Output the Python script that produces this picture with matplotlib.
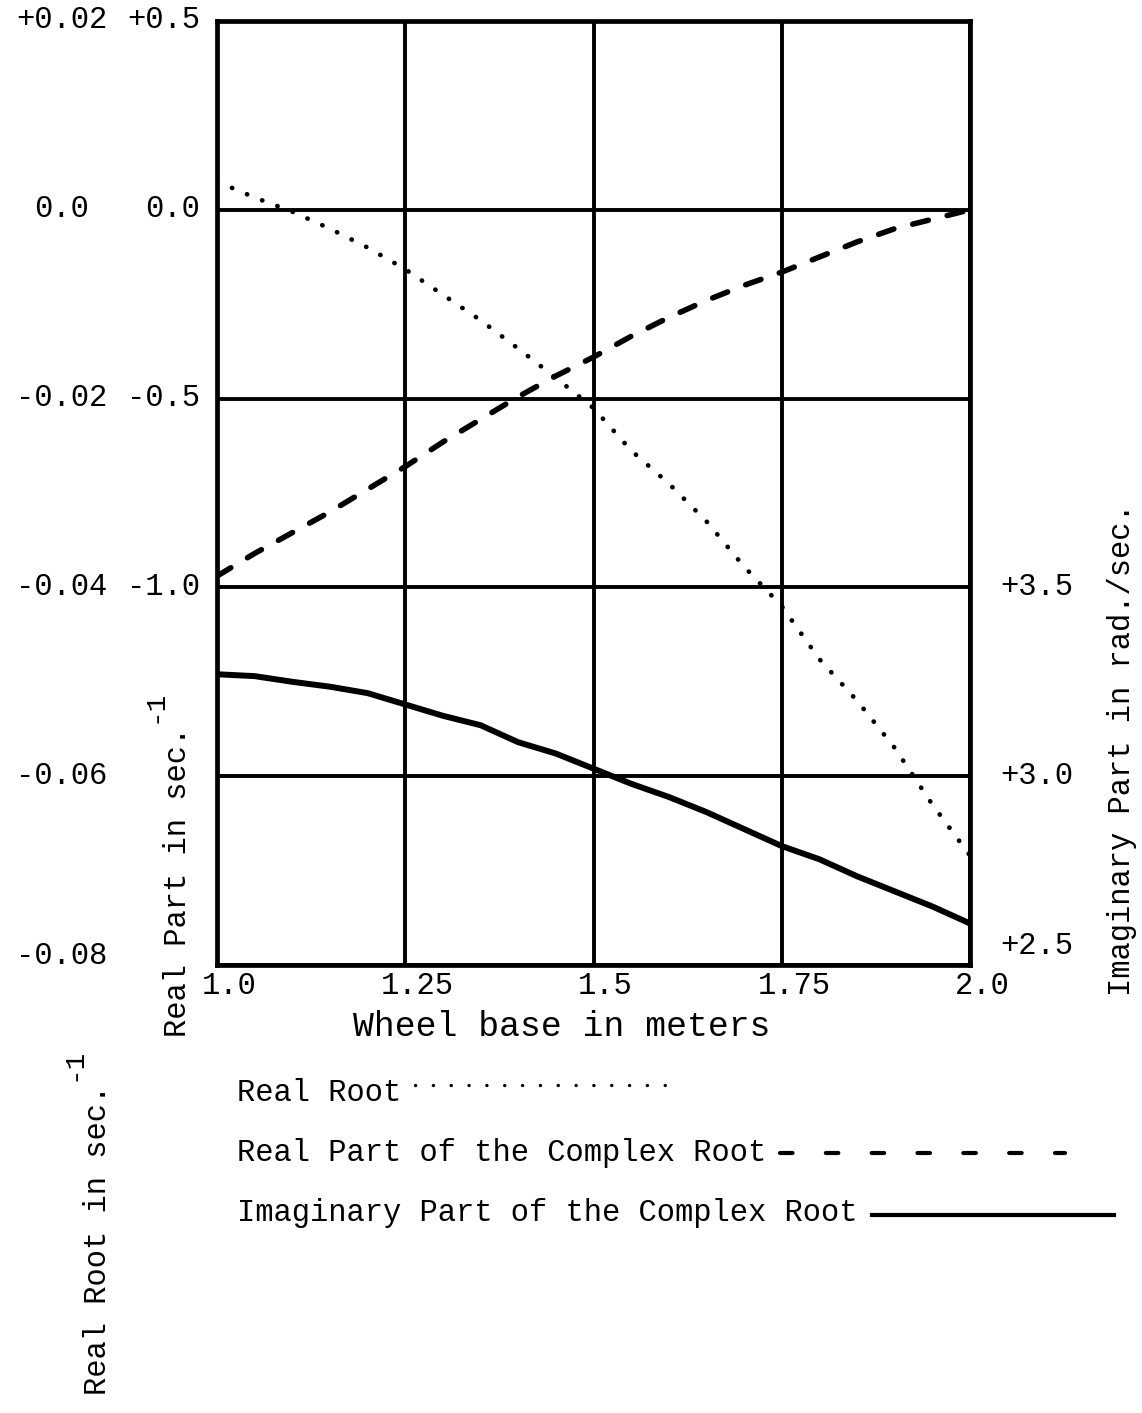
import numpy as np
import matplotlib.pyplot as plt
from matplotlib.lines import Line2D
from matplotlib.transforms import ScaledTranslation

# typewriter look
plt.rcParams['font.family'] = ['Liberation Mono', 'DejaVu Sans Mono']

FS = 22

# wheel base in meters
wheel_base = [1.0, 1.05, 1.1, 1.15, 1.2, 1.25, 1.3, 1.35, 1.4, 1.45, 1.5,
              1.55, 1.6, 1.65, 1.7, 1.75, 1.8, 1.85, 1.9, 1.95, 2.0]
# real root (1/sec)
real_root = [0.0030, 0.0013, -0.0002, -0.0020, -0.0040, -0.0063, -0.0090,
             -0.0117, -0.0147, -0.0178, -0.0210, -0.0255, -0.0290, -0.0330,
             -0.0378, -0.0420, -0.0476, -0.0520, -0.0570, -0.0630, -0.0684]
# real part of the complex root (1/sec)
real_part = [-0.97, -0.91, -0.855, -0.80, -0.74, -0.68, -0.615, -0.555,
             -0.495, -0.44, -0.39, -0.335, -0.285, -0.24, -0.20, -0.165,
             -0.125, -0.085, -0.05, -0.025, 0.0]
# imaginary part of the complex root (rad/sec)
imag_part = [3.27, 3.265, 3.25, 3.237, 3.22, 3.19, 3.16, 3.135, 3.09, 3.06,
             3.02, 2.98, 2.945, 2.905, 2.86, 2.815, 2.78, 2.735, 2.695,
             2.655, 2.61]

x_ticks = [1.0, 1.25, 1.5, 1.75, 2.0]
x_labels = ['1.0', '1.25', '1.5', '1.75', '2.0']
rp_ticks = [0.5, 0.0, -0.5, -1.0, -1.5, -2.0]
rp_labels = ['+0.5', '0.0', '-0.5', '-1.0', '', '']
rr_ticks = [0.02, 0.0, -0.02, -0.04, -0.06, -0.08]
rr_labels = ['+0.02', '0.0', '-0.02', '-0.04', '-0.06', '-0.08']
im_ticks = [2.5, 3.0, 3.5]
im_labels = ['+2.5', '+3.0', '+3.5']

W, H = 1142, 1413
fig = plt.figure(figsize=(W / 100, H / 100), dpi=100)
ax = fig.add_axes([217 / W, 1 - 965 / H, (970 - 217) / W, (965 - 21) / H])

# real part of complex root on the main axes
ax.set_xlim(1.0, 2.0)
ax.set_ylim(-2.0, 0.5)
ax.set_xticks(x_ticks, x_labels, fontsize=FS)
ax.set_yticks(rp_ticks, rp_labels, fontsize=FS)
ax.tick_params(length=0)
ax.tick_params(axis='y', pad=12)
ax.tick_params(axis='x', pad=4)
ax.grid(True, color='black', lw=2.8)
for s in ax.spines.values():
    s.set_linewidth(3.4)
shift = ScaledTranslation(12 / 100, 0, fig.dpi_scale_trans)
for lab in ax.get_xticklabels():
    lab.set_transform(lab.get_transform() + shift)
up = ScaledTranslation(0, 4 / 100, fig.dpi_scale_trans)
for lab in ax.get_yticklabels():
    lab.set_transform(lab.get_transform() + up)

ax.plot(wheel_base, real_part, color='black', lw=4.0,
        linestyle=(0, (2.9, 3.5)), dash_capstyle='round')

# real root on a second scale, labels far left
ax_r = ax.twinx()
ax_r.set_ylim(-0.08, 0.02)
ax_r.yaxis.tick_left()
ax_r.set_yticks(rr_ticks, rr_labels, fontsize=FS)
ax_r.tick_params(length=0, pad=112)
up2 = ScaledTranslation(0, 8 / 100, fig.dpi_scale_trans)
for lab in ax_r.get_yticklabels():
    lab.set_ha('center')
    lab.set_transform(lab.get_transform() + up)
lab = ax_r.get_yticklabels()[-1]
lab.set_transform(lab.get_transform() + up2)
for s in ax_r.spines.values():
    s.set_visible(False)
ax_r.plot(wheel_base, real_root, color='black', lw=3.4,
          linestyle=(0, (0.05, 3.4)), dash_capstyle='round')

# imaginary part on the right
ax_i = ax.twinx()
ax_i.set_ylim(2.5, 5.0)
ax_i.set_yticks(im_ticks, im_labels, fontsize=FS)
ax_i.tick_params(length=0, pad=22)
for lab in ax_i.get_yticklabels():
    lab.set_transform(lab.get_transform() + up)
ax_i.get_yticklabels()[0].set_va('bottom')
for s in ax_i.spines.values():
    s.set_visible(False)
ax_i.plot(wheel_base, imag_part, color='black', lw=4.3,
          solid_capstyle='round', solid_joinstyle='round')

renderer = fig.canvas.get_renderer()
inv = fig.transFigure.inverted()


def vertical_label(xp, yp, text, exponent=None):
    """Rotated axis title; exponent drawn raised after the text."""
    t = fig.text(xp / W, 1 - yp / H, text, fontsize=FS, rotation=90,
                 ha='center', va='center')
    if exponent:
        bb = t.get_window_extent(renderer)
        pos = inv.transform((bb.x0 + 4, bb.y1 + 4))
        fig.text(pos[0], pos[1], exponent, fontsize=FS - 2, rotation=90,
                 ha='right', va='bottom')


# axis titles
fig.text(562 / W, 1 - 1027 / H, 'Wheel base in meters', fontsize=25,
         ha='center', va='center')
vertical_label(178, 882, 'Real Part in sec.', '-1')
vertical_label(98, 1240, 'Real Root in sec.', '-1')
vertical_label(1122, 750, 'Imaginary Part in rad./sec.')

# key below the chart, sample line after each label
key = [
    ('Real Root', dict(lw=2.4, linestyle=(0, (0.05, 5.3)),
                       dash_capstyle='round'), 250, -8),
    ('Real Part of the Complex Root', dict(lw=3.0, linestyle=(0, (3.0, 8.0)),
                                           dash_capstyle='round'), 285, 0),
    ('Imaginary Part of the Complex Root', dict(lw=3.0), 242, 2),
]
y0 = 1093
for i, (label, style, length, dy) in enumerate(key):
    yp = y0 + 60 * i
    t = fig.text(237 / W, 1 - yp / H, label, fontsize=FS, ha='left',
                 va='center')
    bb = t.get_window_extent(renderer)
    xa = bb.x1 + 14
    p0 = inv.transform((xa, H - yp - dy))
    p1 = inv.transform((xa + length, H - yp - dy))
    fig.add_artist(Line2D([p0[0], p1[0]], [p0[1], p1[1]], color='black',
                          **style))

fig.savefig('out.png', dpi=100)
